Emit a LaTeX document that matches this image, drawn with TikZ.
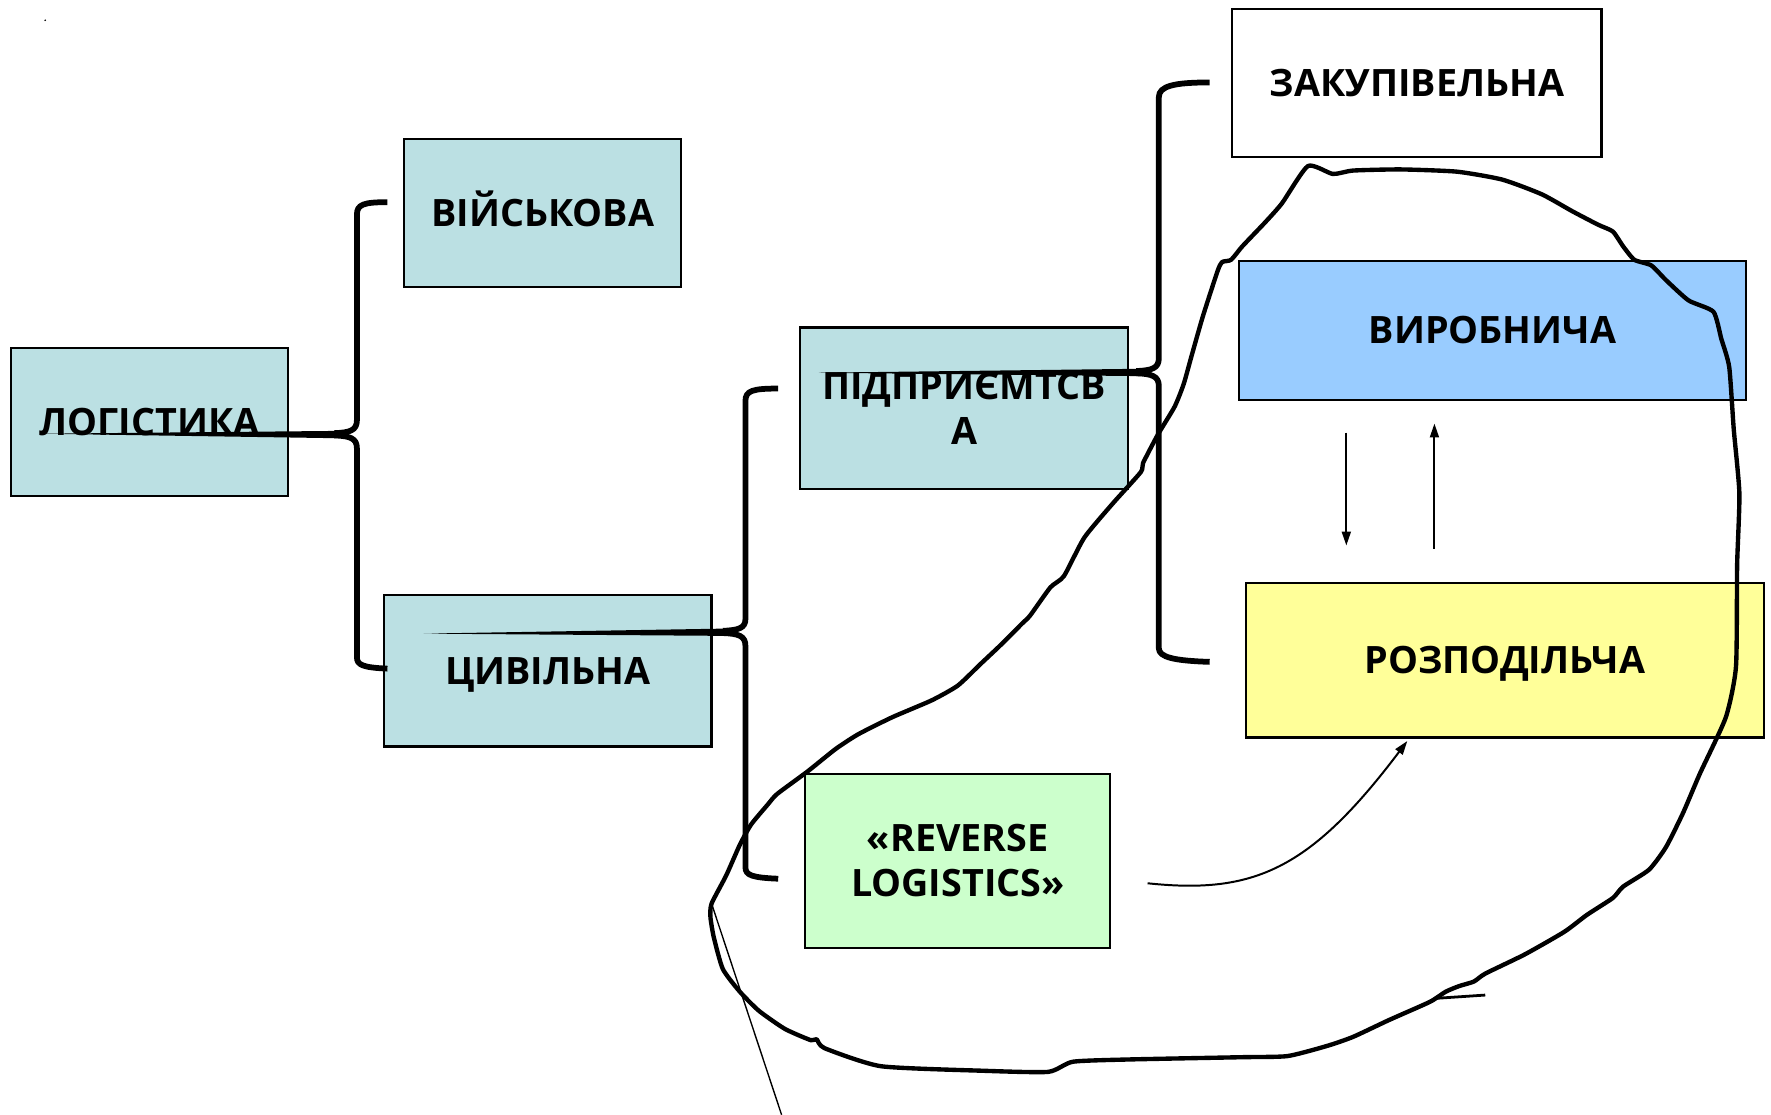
\documentclass[tikz,border=0pt]{standalone}
\usepackage{fontspec}
\setmainfont{Open Sans}
\usetikzlibrary{arrows.meta}
\definecolor{teal1}{RGB}{187,224,227}
\definecolor{blue1}{RGB}{153,204,255}
\definecolor{yel1}{RGB}{255,255,153}
\definecolor{grn1}{RGB}{204,255,204}
\begin{document}
\begin{tikzpicture}[x=0.02cm,y=-0.02cm,
  box/.style={draw=black,line width=1.1pt,inner sep=0pt,outer sep=0pt,align=center,
    font=\fontsize{19}{22.5}\selectfont\bfseries},
  oneline/.style={text height=13.6pt,text depth=0pt},
  brace/.style={line width=2.9pt,line cap=butt,line join=round},
  freeloop/.style={line width=2.2pt,line join=round,line cap=round},
  flow/.style={line width=1pt,-{Triangle[length=7pt,width=4.5pt]}}]
\useasboundingbox (0,0) rectangle (1568,987);
\fill (40,18) circle (0.8);
% boxes
\node[box,oneline,fill=teal1,minimum width=4.9cm,minimum height=2.62cm] (log) at (132.5,373.5) {ЛОГІСТИКА};
\node[box,oneline,fill=teal1,minimum width=4.9cm,minimum height=2.62cm] (mil) at (480.5,188.5) {ВІЙСЬКОВА};
\node[box,oneline,fill=teal1,minimum width=5.8cm,minimum height=2.68cm] (civ) at (485,594) {ЦИВІЛЬНА};
\node[box,fill=teal1,minimum width=5.82cm,minimum height=2.86cm] (ent) at (853.5,361.5) {ПІДПРИЄМТСВ\\А};
\node[box,fill=grn1,minimum width=5.4cm,minimum height=3.08cm] (rev) at (848,762) {«REVERSE\\LOGISTICS»};
\node[box,oneline,fill=white,minimum width=6.54cm,minimum height=2.62cm] (pur) at (1254.5,73.5) {ЗАКУПІВЕЛЬНА};
\node[box,oneline,fill=blue1,minimum width=8.98cm,minimum height=2.46cm] (prod) at (1321.5,292.5) {ВИРОБНИЧА};
\node[box,oneline,fill=yel1,minimum width=9.18cm,minimum height=2.74cm] (dist) at (1332.5,584.5) {РОЗПОДІЛЬЧА};
% brace 1
\coordinate (b1t) at (343,179);
\coordinate (b1b) at (343,592);
\coordinate (b1tip) at (37,384);
\draw[brace] (b1t) .. controls (322,179) and (316,181) .. (316,190) -- (316,372)
  .. controls (316,381) and (310,383) .. (296,383.5);
\draw[brace] (296,385.5) .. controls (310,386) and (316,388) .. (316,397) -- (316,582)
  .. controls (316,589) and (322,591) .. (b1b);
\fill (b1tip) -- (300,381.5) -- (300,388) -- cycle;
% brace 2
\coordinate (b2t) at (689,344);
\coordinate (b2b) at (689,778);
\coordinate (b2tip) at (375,561);
\draw[brace] (b2t) .. controls (666,344) and (660,346) .. (660,355) -- (660,548)
  .. controls (660,556) and (654,558) .. (640,558.5);
\draw[brace] (640,560.5) .. controls (654,561) and (660,563) .. (660,572) -- (660,768)
  .. controls (660,775) and (666,777) .. (b2b);
\fill (b2tip) -- (644,556.5) -- (644,563) -- cycle;
% brace 3
\coordinate (b3t) at (1071,73);
\coordinate (b3b) at (1071,586);
\coordinate (b3tip) at (725,330);
\draw[brace] (b3t) .. controls (1040,73) and (1026,76) .. (1026,86) -- (1026,317)
  .. controls (1026,326) and (1020,328) .. (1006,328.5);
\draw[brace] (1006,330.5) .. controls (1020,331) and (1026,333) .. (1026,342) -- (1026,574)
  .. controls (1026,582) and (1040,585) .. (b3b);
\fill (b3tip) -- (1010,326.5) -- (1010,333) -- cycle;
% arrows between production and distribution
\coordinate (a1s) at (1192,383);
\coordinate (a1e) at (1192,483);
\coordinate (a2s) at (1270,486);
\coordinate (a2e) at (1270,375);
\draw[flow] (a1s) -- (a1e);
\draw[flow] (a2s) -- (a2e);
\coordinate (a3s) at (1016,782);
\coordinate (a3e) at (1246,656);
\draw[flow] (a3s) .. controls (1110,792) and (1160,770) .. (a3e);
% freehand loop
\draw[freeloop] plot[smooth cycle,tension=0.35] coordinates {
(1158,147) (1180,154) (1198,151) (1240,150) (1290,152) (1330,159) (1365,172) (1392,187)
(1415,199) (1428,205) (1437,218) (1447,230) (1462,235) (1475,248) (1495,266) (1517,276)
(1524,300) (1531,325) (1535,380) (1540,437) (1538,500) (1537,590) (1528,635) (1505,685)
(1490,720) (1475,750) (1460,770) (1437,785) (1428,795) (1405,810) (1385,825) (1350,845)
(1315,862) (1305,869) (1292,873) (1280,878) (1266,887) (1230,903) (1198,918) (1175,926)
(1140,935) (1100,936) (1000,938) (950,940) (928,949) (870,948) (780,944) (730,928)
(723,920) (718,921) (695,911) (672,895) (655,878) (640,858) (632,830) (629,812)
(630,800) (643,775) (655,748) (665,730) (680,712) (688,703) (715,683) (740,663)
(760,650) (790,635) (825,620) (848,607) (868,588) (885,572) (905,552) (912,545)
(930,520) (942,510) (960,476) (985,446) (1010,418) (1012,410) (1025,385) (1040,360)
(1048,340) (1055,315) (1065,280) (1078,240) (1082,232) (1090,230) (1100,218) (1120,197)
(1135,180)};
\draw[line width=1.4pt] (1270,884) -- (1315,881);
\coordinate (c0) at (630,800);
\coordinate (c1) at (692,987);
\draw[line width=0.7pt] (c0) -- (c1);
\end{tikzpicture}
\end{document}
